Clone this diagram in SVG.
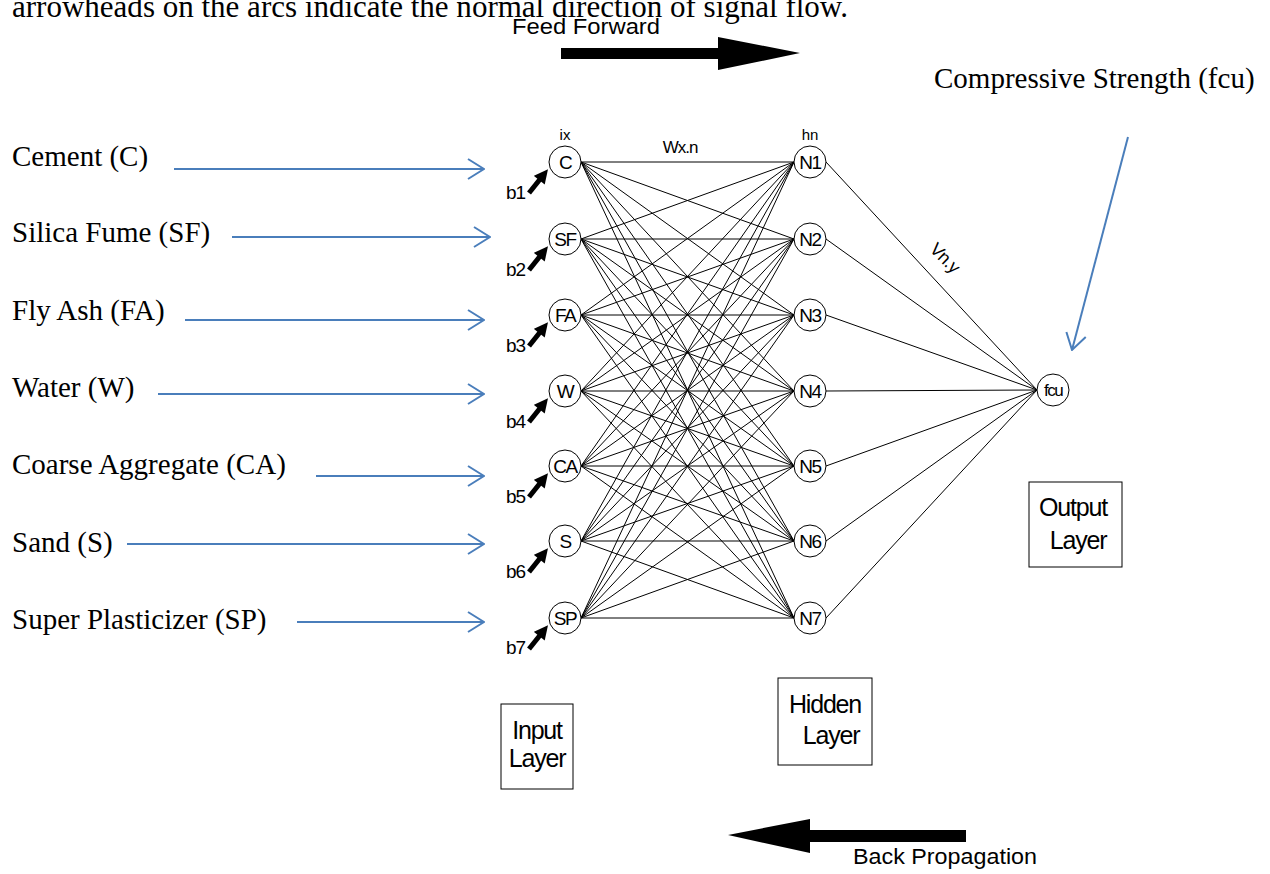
<svg xmlns="http://www.w3.org/2000/svg" width="1270" height="874" viewBox="0 0 1270 874">
<defs>
<style>
.serif{font-family:"Liberation Serif","Times New Roman",serif;font-size:29px;fill:#000}
.sans{font-family:"Liberation Sans",Arial,sans-serif;fill:#000}
.nl{font-family:"Liberation Sans",Arial,sans-serif;font-size:19px;letter-spacing:-1.5px;text-anchor:middle;fill:#000}
.node{fill:#fff;stroke:#000;stroke-width:1}
.w{stroke:#000;stroke-width:1;fill:none}
.blue{stroke:#4a7ebb;stroke-width:2;fill:none;marker-end:url(#open)}
.bias{stroke:#000;stroke-width:5;marker-end:url(#tri)}
.box{fill:#fff;stroke:#000;stroke-width:1}
.bl{font-family:"Liberation Sans",Arial,sans-serif;font-size:25px;letter-spacing:-1.2px;fill:#000}
</style>
<marker id="open" viewBox="0 0 18 22" refX="17" refY="11" markerWidth="18" markerHeight="22" markerUnits="userSpaceOnUse" orient="auto">
<path d="M1,1 L17,11 L1,21" fill="none" stroke="#4a7ebb" stroke-width="2"/>
</marker>
<marker id="tri" viewBox="0 0 10 10" refX="2" refY="5" markerWidth="15" markerHeight="14" markerUnits="userSpaceOnUse" orient="auto">
<path d="M0,0 L10,5 L0,10 z" fill="#000"/>
</marker>
</defs>
<rect width="1270" height="874" fill="#fff"/>

<text class="serif" x="12" y="17" style="font-size:31px" textLength="836" lengthAdjust="spacingAndGlyphs">arrowheads on the arcs indicate the normal direction of signal flow.</text>

<g id="feed-forward">
<text class="sans" x="512" y="34" font-size="22" textLength="148" lengthAdjust="spacingAndGlyphs">Feed Forward</text>
<polygon points="561,48 718,48 718,37 800,53 718,70 718,59 561,59" fill="#000"/>
</g>
<g id="back-propagation">
<polygon points="966,830 810,830 810,819 728,835 810,853 810,842 966,842" fill="#000"/>
<text class="sans" x="853" y="864" font-size="22" textLength="184" lengthAdjust="spacingAndGlyphs">Back Propagation</text>
</g>

<g id="input-labels">
<text class="serif" x="12" y="166">Cement (C)</text>
<text class="serif" x="12" y="242">Silica Fume (SF)</text>
<text class="serif" x="12" y="320">Fly Ash (FA)</text>
<text class="serif" x="12" y="397">Water (W)</text>
<text class="serif" x="12" y="474">Coarse Aggregate (CA)</text>
<text class="serif" x="12" y="552">Sand (S)</text>
<text class="serif" x="12" y="629">Super Plasticizer (SP)</text>
<text class="serif" x="934" y="88">Compressive Strength (fcu)</text>
</g>

<g id="connectors">
<line class="blue" x1="174" y1="169" x2="484" y2="169"/>
<line class="blue" x1="232" y1="237" x2="490" y2="237"/>
<line class="blue" x1="185" y1="320" x2="484" y2="320"/>
<line class="blue" x1="158" y1="394" x2="484" y2="394"/>
<line class="blue" x1="316" y1="476" x2="484" y2="476"/>
<line class="blue" x1="127" y1="544" x2="484" y2="544"/>
<line class="blue" x1="297" y1="622" x2="484" y2="622"/>
<line class="blue" x1="1128" y1="137" x2="1072" y2="350"/>

<g id="weights-ih">
<line class="w" x1="581" y1="162" x2="794" y2="162"/><line class="w" x1="581" y1="162" x2="794" y2="239"/><line class="w" x1="581" y1="162" x2="794" y2="315"/><line class="w" x1="581" y1="162" x2="794" y2="391"/><line class="w" x1="581" y1="162" x2="794" y2="466"/><line class="w" x1="581" y1="162" x2="794" y2="541"/><line class="w" x1="581" y1="162" x2="794" y2="618"/>
<line class="w" x1="581" y1="239" x2="794" y2="162"/><line class="w" x1="581" y1="239" x2="794" y2="239"/><line class="w" x1="581" y1="239" x2="794" y2="315"/><line class="w" x1="581" y1="239" x2="794" y2="391"/><line class="w" x1="581" y1="239" x2="794" y2="466"/><line class="w" x1="581" y1="239" x2="794" y2="541"/><line class="w" x1="581" y1="239" x2="794" y2="618"/>
<line class="w" x1="581" y1="315" x2="794" y2="162"/><line class="w" x1="581" y1="315" x2="794" y2="239"/><line class="w" x1="581" y1="315" x2="794" y2="315"/><line class="w" x1="581" y1="315" x2="794" y2="391"/><line class="w" x1="581" y1="315" x2="794" y2="466"/><line class="w" x1="581" y1="315" x2="794" y2="541"/><line class="w" x1="581" y1="315" x2="794" y2="618"/>
<line class="w" x1="581" y1="391" x2="794" y2="162"/><line class="w" x1="581" y1="391" x2="794" y2="239"/><line class="w" x1="581" y1="391" x2="794" y2="315"/><line class="w" x1="581" y1="391" x2="794" y2="391"/><line class="w" x1="581" y1="391" x2="794" y2="466"/><line class="w" x1="581" y1="391" x2="794" y2="541"/><line class="w" x1="581" y1="391" x2="794" y2="618"/>
<line class="w" x1="581" y1="466" x2="794" y2="162"/><line class="w" x1="581" y1="466" x2="794" y2="239"/><line class="w" x1="581" y1="466" x2="794" y2="315"/><line class="w" x1="581" y1="466" x2="794" y2="391"/><line class="w" x1="581" y1="466" x2="794" y2="466"/><line class="w" x1="581" y1="466" x2="794" y2="541"/><line class="w" x1="581" y1="466" x2="794" y2="618"/>
<line class="w" x1="581" y1="541" x2="794" y2="162"/><line class="w" x1="581" y1="541" x2="794" y2="239"/><line class="w" x1="581" y1="541" x2="794" y2="315"/><line class="w" x1="581" y1="541" x2="794" y2="391"/><line class="w" x1="581" y1="541" x2="794" y2="466"/><line class="w" x1="581" y1="541" x2="794" y2="541"/><line class="w" x1="581" y1="541" x2="794" y2="618"/>
<line class="w" x1="581" y1="618" x2="794" y2="162"/><line class="w" x1="581" y1="618" x2="794" y2="239"/><line class="w" x1="581" y1="618" x2="794" y2="315"/><line class="w" x1="581" y1="618" x2="794" y2="391"/><line class="w" x1="581" y1="618" x2="794" y2="466"/><line class="w" x1="581" y1="618" x2="794" y2="541"/><line class="w" x1="581" y1="618" x2="794" y2="618"/>
</g>
<g id="weights-ho">
<line class="w" x1="826" y1="162" x2="1037" y2="390"/><line class="w" x1="826" y1="239" x2="1037" y2="390"/><line class="w" x1="826" y1="315" x2="1037" y2="390"/><line class="w" x1="826" y1="391" x2="1037" y2="390"/><line class="w" x1="826" y1="466" x2="1037" y2="390"/><line class="w" x1="826" y1="541" x2="1037" y2="390"/><line class="w" x1="826" y1="618" x2="1037" y2="390"/>
</g>
<g id="bias-arrows">
<line class="bias" x1="529" y1="193" x2="541" y2="178"/>
<line class="bias" x1="529" y1="270" x2="541" y2="255"/>
<line class="bias" x1="529" y1="346" x2="541" y2="331"/>
<line class="bias" x1="529" y1="422" x2="541" y2="407"/>
<line class="bias" x1="529" y1="497" x2="541" y2="482"/>
<line class="bias" x1="529" y1="572" x2="541" y2="557"/>
<line class="bias" x1="529" y1="649" x2="541" y2="634"/>
</g>
</g>

<g id="annotations" class="sans">
<text x="565" y="140" font-size="15" text-anchor="middle">ix</text>
<text x="810" y="140" font-size="15" text-anchor="middle">hn</text>
<text x="680" y="153" font-size="17" text-anchor="middle" letter-spacing="-1">Wx.n</text>
<text x="945" y="264" font-size="18" text-anchor="middle" letter-spacing="-0.5" transform="rotate(45 945 258)">Vn.y</text>
<text x="506" y="199" font-size="19" letter-spacing="-1">b1</text>
<text x="506" y="276" font-size="19" letter-spacing="-1">b2</text>
<text x="506" y="352" font-size="19" letter-spacing="-1">b3</text>
<text x="506" y="428" font-size="19" letter-spacing="-1">b4</text>
<text x="506" y="503" font-size="19" letter-spacing="-1">b5</text>
<text x="506" y="578" font-size="19" letter-spacing="-1">b6</text>
<text x="506" y="654" font-size="19" letter-spacing="-1">b7</text>
</g>

<g id="node-C"><circle class="node" cx="565" cy="162" r="16"/><text class="nl" x="565" y="169">C</text></g>
<g id="node-SF"><circle class="node" cx="565" cy="239" r="16"/><text class="nl" x="565" y="246">SF</text></g>
<g id="node-FA"><circle class="node" cx="565" cy="315" r="16"/><text class="nl" x="565" y="322">FA</text></g>
<g id="node-W"><circle class="node" cx="565" cy="391" r="16"/><text class="nl" x="565" y="398">W</text></g>
<g id="node-CA"><circle class="node" cx="565" cy="466" r="16"/><text class="nl" x="565" y="473">CA</text></g>
<g id="node-S"><circle class="node" cx="565" cy="541" r="16"/><text class="nl" x="565" y="548">S</text></g>
<g id="node-SP"><circle class="node" cx="565" cy="618" r="16"/><text class="nl" x="565" y="625">SP</text></g>

<g id="node-N1"><circle class="node" cx="810" cy="162" r="16"/><text class="nl" x="810" y="169">N1</text></g>
<g id="node-N2"><circle class="node" cx="810" cy="239" r="16"/><text class="nl" x="810" y="246">N2</text></g>
<g id="node-N3"><circle class="node" cx="810" cy="315" r="16"/><text class="nl" x="810" y="322">N3</text></g>
<g id="node-N4"><circle class="node" cx="810" cy="391" r="16"/><text class="nl" x="810" y="398">N4</text></g>
<g id="node-N5"><circle class="node" cx="810" cy="466" r="16"/><text class="nl" x="810" y="473">N5</text></g>
<g id="node-N6"><circle class="node" cx="810" cy="541" r="16"/><text class="nl" x="810" y="548">N6</text></g>
<g id="node-N7"><circle class="node" cx="810" cy="618" r="16"/><text class="nl" x="810" y="625">N7</text></g>

<g id="node-fcu"><circle class="node" cx="1053" cy="390" r="16"/><text class="nl" x="1053" y="396" style="font-size:17px;letter-spacing:-1.5px">fcu</text></g>

<g id="input-layer"><rect class="box" x="501" y="704" width="72" height="85"/><text class="bl" x="537" y="739" text-anchor="middle">Input</text><text class="bl" x="537" y="767" text-anchor="middle">Layer</text></g>
<g id="hidden-layer"><rect class="box" x="778" y="678" width="94" height="87"/><text class="bl" x="825" y="713" text-anchor="middle">Hidden</text><text class="bl" x="831" y="744" text-anchor="middle">Layer</text></g>
<g id="output-layer"><rect class="box" x="1029" y="482" width="93" height="85"/><text class="bl" x="1073" y="516" text-anchor="middle">Output</text><text class="bl" x="1078" y="549" text-anchor="middle">Layer</text></g>
</svg>
